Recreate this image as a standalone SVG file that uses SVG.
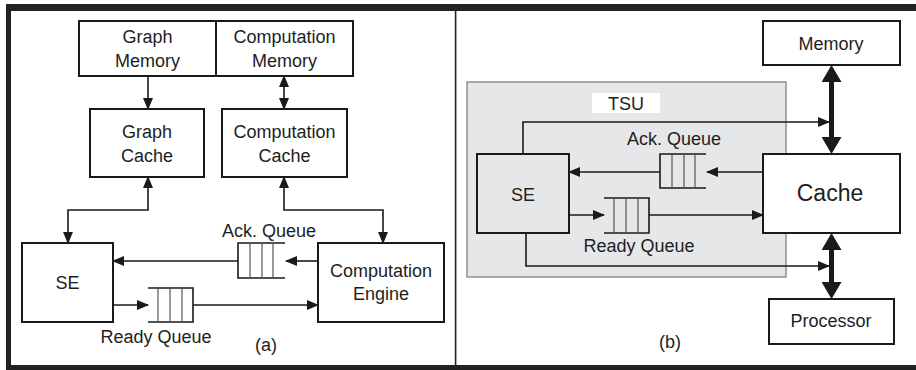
<svg xmlns="http://www.w3.org/2000/svg" width="916" height="370" viewBox="0 0 916 370">
<defs>
<style>
text{font-family:"Liberation Sans",Arial,sans-serif;font-size:18px;fill:#1e1e1e;text-anchor:middle}
.box{fill:#fff;stroke:#1a1a1a;stroke-width:2}
.ln{fill:none;stroke:#1a1a1a;stroke-width:1.6}
.qi{stroke:#555;stroke-width:1.2}
.thick{stroke:#1a1a1a;stroke-width:5;fill:none}
.frame{fill:#222}
</style>
<marker id="ah" viewBox="0 0 12 10" refX="11" refY="5" markerWidth="12" markerHeight="10" markerUnits="userSpaceOnUse" orient="auto-start-reverse"><path d="M0,0L12,5L0,10z" fill="#1a1a1a"/></marker>
<marker id="big" viewBox="0 0 17 20" refX="0" refY="10" markerWidth="17" markerHeight="20" markerUnits="userSpaceOnUse" orient="auto-start-reverse"><path d="M0,0L17,10L0,20z" fill="#1a1a1a"/></marker>
</defs>
<rect width="916" height="370" fill="#fff"/>
<g id="frame">
<rect class="frame" x="6" y="4" width="910" height="7"/>
<rect class="frame" x="6" y="4" width="5" height="366"/>
<rect class="frame" x="6" y="365" width="910" height="5"/>
<rect x="454.8" y="11" width="1.6" height="354" fill="#222"/>
</g>
<g id="tsu">
<rect x="467" y="82" width="319" height="195" fill="#e6e7e9" stroke="#777" stroke-width="1.2"/>
<rect x="592" y="93" width="68" height="20" fill="#fff"/>
<text x="626" y="110">TSU</text>
</g>
<g id="graph-memory"><rect class="box" x="79" y="21" width="137" height="55"/><text x="147.5" y="43">Graph</text><text x="147.5" y="67">Memory</text></g>
<g id="computation-memory"><rect class="box" x="216" y="21" width="137" height="55"/><text x="284.5" y="43">Computation</text><text x="284.5" y="67">Memory</text></g>
<g id="graph-cache"><rect class="box" x="90" y="109" width="114" height="68"/><text x="147" y="138">Graph</text><text x="147" y="162">Cache</text></g>
<g id="computation-cache"><rect class="box" x="222" y="109" width="125" height="68"/><text x="284.5" y="138">Computation</text><text x="284.5" y="162">Cache</text></g>
<g id="se-a"><rect class="box" x="22" y="243" width="91" height="79"/><text x="67.5" y="289">SE</text></g>
<g id="computation-engine"><rect class="box" x="318" y="243" width="126" height="79"/><text x="381" y="277">Computation</text><text x="381" y="300">Engine</text></g>
<g id="ack-queue-a">
<path class="ln" d="M285,243H238V278H285"/>
<path class="qi" d="M250,243V278M262,243V278M273,243V278"/>
<text x="269" y="237">Ack. Queue</text>
</g>
<g id="ready-queue-a">
<path class="ln" d="M148,288H193V322H148"/>
<path class="qi" d="M158,288V322M170,288V322M182,288V322"/>
<text x="156" y="343">Ready Queue</text>
</g>
<g id="memory"><rect class="box" x="763" y="21" width="137" height="44"/><text x="831" y="50">Memory</text></g>
<g id="se-b"><rect x="477" y="154" width="92" height="79" fill="none" stroke="#1a1a1a" stroke-width="2"/><text x="523" y="201">SE</text></g>
<g id="cache"><rect class="box" x="763" y="154" width="137" height="79"/><text x="830" y="201" style="font-size:23px">Cache</text></g>
<g id="processor"><rect class="box" x="769" y="299" width="125" height="45"/><text x="831" y="327">Processor</text></g>
<g id="ack-queue-b">
<path class="ln" d="M706,154H660V188H706"/>
<path class="qi" d="M672,154V188M684,154V188M695,154V188"/>
<text x="674" y="145">Ack. Queue</text>
</g>
<g id="ready-queue-b">
<path class="ln" d="M604,198H649V233H604"/>
<path class="qi" d="M614,198V233M626,198V233M638,198V233"/>
<text x="639" y="252">Ready Queue</text>
</g>
<g id="connectors">
<path class="ln" d="M148,76V109" marker-end="url(#ah)"/>
<path class="ln" d="M284,76V109" marker-start="url(#ah)" marker-end="url(#ah)"/>
<path class="ln" d="M148,177V210H68V243" marker-start="url(#ah)" marker-end="url(#ah)"/>
<path class="ln" d="M284,177V210H383V243" marker-start="url(#ah)" marker-end="url(#ah)"/>
<path class="ln" d="M318,261H286" marker-end="url(#ah)"/>
<path class="ln" d="M238,261H113" marker-end="url(#ah)"/>
<path class="ln" d="M113,305H148" marker-end="url(#ah)"/>
<path class="ln" d="M193,305H318" marker-end="url(#ah)"/>
<path class="ln" d="M523,154V122H829" marker-end="url(#ah)"/>
<path class="ln" d="M763,172H707" marker-end="url(#ah)"/>
<path class="ln" d="M660,172H569" marker-end="url(#ah)"/>
<path class="ln" d="M569,215H604" marker-end="url(#ah)"/>
<path class="ln" d="M649,215H763" marker-end="url(#ah)"/>
<path class="ln" d="M526,233V266H829" marker-end="url(#ah)"/>
<path class="thick" d="M831.5,82V137" marker-start="url(#big)" marker-end="url(#big)"/>
<path class="thick" d="M831.5,250V282" marker-start="url(#big)" marker-end="url(#big)"/>
</g>
<g id="captions"><text x="266" y="351">(a)</text><text x="670" y="348">(b)</text></g>
</svg>
